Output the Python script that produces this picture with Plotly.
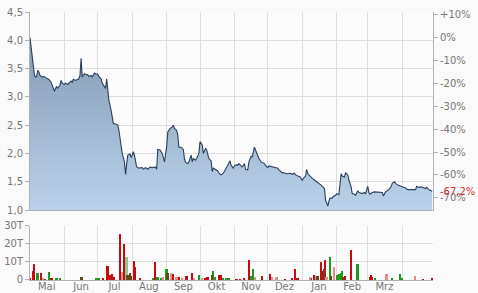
import plotly.graph_objects as go
import pandas as pd

start_date = "2016-05-01"
end_day = 362.7

price_days = [0, 1, 2, 3, 4, 5, 6, 7, 8, 9, 11, 13, 14, 16, 17, 19, 20, 22, 23, 24, 25, 27, 28, 29, 31, 32, 34, 35, 37, 38, 39, 41, 43, 44, 45, 46, 47, 49, 50, 52, 53, 55, 56, 58, 59, 61, 62, 64, 65, 67, 68, 69, 70, 71, 73, 74, 75, 77, 79, 80, 81, 82, 83, 85, 86, 87, 88, 90, 91, 92, 93, 94, 95, 96, 98, 101, 102, 104, 106, 108, 110, 113, 114, 115, 117, 119, 121, 123, 124, 126, 128, 129, 130, 132, 133, 134, 136, 138, 139, 140, 142, 143, 145, 146, 147, 149, 150, 152, 153, 155, 156, 158, 159, 161, 163, 164, 165, 167, 169, 170, 172, 174, 176, 178, 180, 181, 183, 184, 186, 187, 188, 190, 191, 193, 194, 196, 197, 199, 200, 202, 203, 205, 206, 208, 209, 211, 212, 214, 215, 218, 220, 221, 223, 224, 226, 227, 230, 232, 234, 236, 238, 239, 241, 243, 245, 246, 248, 249, 250, 252, 254, 256, 258, 260, 262, 264, 265, 266, 268, 269, 270, 272, 273, 275, 276, 278, 279, 280, 281, 283, 284, 286, 287, 289, 290, 292, 293, 295, 296, 298, 299, 301, 302, 304, 305, 306, 308, 310, 312, 314, 317, 318, 320, 322, 323, 325, 326, 328, 329, 331, 333, 335, 338, 340, 342, 344, 347, 348, 350, 352, 354, 356, 357, 359, 361, 362]
price_values = [4.05, 3.88, 3.71, 3.59, 3.38, 3.35, 3.36, 3.47, 3.44, 3.38, 3.35, 3.36, 3.34, 3.32, 3.31, 3.26, 3.21, 3.10, 3.15, 3.18, 3.15, 3.21, 3.29, 3.24, 3.22, 3.24, 3.22, 3.24, 3.28, 3.26, 3.31, 3.29, 3.32, 3.32, 3.38, 3.68, 3.35, 3.41, 3.40, 3.39, 3.36, 3.38, 3.35, 3.42, 3.41, 3.40, 3.36, 3.32, 3.24, 3.19, 3.15, 3.32, 3.09, 2.94, 2.76, 2.59, 2.53, 2.52, 2.50, 2.41, 2.26, 2.15, 2.00, 1.85, 1.63, 1.82, 1.97, 1.99, 1.93, 1.97, 2.03, 1.97, 1.85, 1.76, 1.74, 1.75, 1.72, 1.75, 1.72, 1.76, 1.75, 1.76, 1.72, 2.07, 2.06, 2.00, 1.85, 2.12, 2.38, 2.44, 2.47, 2.50, 2.44, 2.41, 2.32, 2.11, 2.11, 2.07, 1.91, 1.84, 1.82, 1.85, 1.97, 1.85, 1.91, 1.88, 1.91, 2.00, 2.21, 2.15, 2.00, 2.09, 2.06, 1.91, 1.87, 1.68, 1.74, 1.72, 1.69, 1.65, 1.62, 1.65, 1.71, 1.79, 1.87, 1.79, 1.74, 1.78, 1.80, 1.79, 1.82, 1.79, 1.76, 1.82, 1.72, 1.71, 1.85, 1.95, 1.94, 2.11, 2.06, 1.97, 1.91, 1.85, 1.84, 1.82, 1.79, 1.75, 1.78, 1.76, 1.75, 1.74, 1.74, 1.71, 1.68, 1.66, 1.65, 1.64, 1.65, 1.63, 1.65, 1.62, 1.60, 1.59, 1.52, 1.56, 1.60, 1.72, 1.64, 1.59, 1.56, 1.53, 1.50, 1.48, 1.44, 1.40, 1.38, 1.18, 1.07, 1.15, 1.21, 1.21, 1.24, 1.26, 1.29, 1.27, 1.47, 1.64, 1.60, 1.58, 1.66, 1.62, 1.53, 1.41, 1.29, 1.28, 1.26, 1.34, 1.31, 1.29, 1.29, 1.31, 1.29, 1.42, 1.31, 1.28, 1.31, 1.32, 1.32, 1.32, 1.31, 1.25, 1.32, 1.35, 1.36, 1.41, 1.47, 1.50, 1.47, 1.44, 1.42, 1.41, 1.39, 1.36, 1.36, 1.36, 1.36, 1.42, 1.40, 1.41, 1.40, 1.38, 1.40, 1.36, 1.34, 1.33]

vol_red_days = [0, 3, 4, 10, 19, 20, 66, 70, 71, 73, 74, 76, 81, 85, 91, 94, 95, 99, 113, 129, 134, 141, 146, 158, 160, 170, 172, 186, 189, 193, 197, 209, 216, 230, 236, 239, 241, 253, 256, 262, 263, 266, 284, 289, 306, 307, 308, 354, 362]
vol_red = [1, 5, 9, 4, 1, 0.8, 1.2, 7.8, 3, 3, 3.5, 1.5, 25.7, 20, 2.5, 10.5, 7, 1, 10, 3.5, 1.5, 2.5, 3.8, 1, 1.5, 3, 3, 0.5, 0.5, 1, 11.3, 2, 3.2, 0.5, 0.8, 6.3, 1, 1, 3, 10, 5, 11, 2, 16.5, 1.5, 3, 1.5, 0.5, 0.8]
vol_pink_days = [12, 83, 120, 127, 132, 137, 148, 155, 203, 218, 222, 252, 258, 267, 274, 321, 347]
vol_pink = [1, 4.5, 1.5, 4, 1.5, 1, 1, 1, 1.5, 1.5, 1.5, 1.5, 2, 1.5, 7, 3.5, 2]
vol_green_days = [7, 17, 24, 27, 60, 62, 111, 115, 118, 123, 152, 165, 167, 174, 177, 179, 199, 201, 270, 277, 278, 280, 281, 295, 311, 326, 333, 335]
vol_green = [4, 4.3, 0.8, 0.8, 1, 1, 1, 1.5, 1, 6, 3, 5, 1.5, 1, 0.8, 0.8, 2, 6, 12.8, 3, 3.5, 4, 5, 8.7, 0.8, 1, 3.5, 1]
vol_lgreen_days = [87]
vol_lgreen = [13]
vol_dark_days = [14, 46, 47, 88, 90, 124, 164, 259, 265, 271, 282]
vol_dark = [0.5, 1.7, 1.7, 3, 4, 4, 3, 2, 6, 2, 1.5]

month_starts = ["2016-05-01", "2016-06-01", "2016-07-01", "2016-08-01", "2016-09-01", "2016-10-01",
                "2016-11-01", "2016-12-01", "2017-01-01", "2017-02-01", "2017-03-01", "2017-04-01"]
month_mids = ["2016-05-16", "2016-06-16", "2016-07-16", "2016-08-16", "2016-09-16", "2016-10-16",
              "2016-11-16", "2016-12-16", "2017-01-16", "2017-02-15", "2017-03-16"]
month_labels = ["Mai", "Jun", "Jul", "Aug", "Sep", "Okt", "Nov", "Dez", "Jan", "Feb", "Mrz"]

price_ticks = [1.0, 1.5, 2.0, 2.5, 3.0, 3.5, 4.0, 4.5]
pct_ticks = [10, 0, -10, -20, -30, -40, -50, -60, -70]
pct_labels = ["+10%", "0%", "-10%", "-20%", "-30%", "-40%", "-50%", "-60%", "-70%"]
vol_ticks = [0, 10, 20, 30]
vol_labels = ["0", "10T", "20T", "30T"]

t0 = pd.Timestamp(start_date)
def to_dates(days):
    return [t0 + pd.Timedelta(days=d) for d in days]

x_range = [t0, t0 + pd.Timedelta(days=end_day)]
y_range = [1.0, 4.5]
base = price_values[0]
pct_range = [(y_range[0] / base - 1) * 100, (y_range[1] / base - 1) * 100]
last_pct = (price_values[-1] / base - 1) * 100

GRID = "#dedede"
AXIS = "#b0b0b0"
TXT = "#777777"
FONT = "DejaVu Sans"
bar_w = 1.6 * 86400000

fig = go.Figure()
fig.add_trace(go.Scatter(
    x=to_dates(price_days), y=price_values, mode="lines",
    line=dict(color="#2b3f5c", width=1.1),
    fill="tozeroy",
    fillgradient=dict(type="vertical", start=1.0, stop=4.3,
                      colorscale=[[0, "#b9d2ea"], [1, "#8196af"]]),
    xaxis="x", yaxis="y", hoverinfo="skip", showlegend=False))
fig.add_trace(go.Scatter(x=[x_range[0]], y=[0], mode="markers", marker=dict(opacity=0),
                         xaxis="x", yaxis="y2", showlegend=False, hoverinfo="skip"))

for days, vals, col in [(vol_red_days, vol_red, "#c40b12"),
                        (vol_pink_days, vol_pink, "#e98a8a"),
                        (vol_green_days, vol_green, "#1f9a1f"),
                        (vol_lgreen_days, vol_lgreen, "#8cc98c"),
                        (vol_dark_days, vol_dark, "#5e4a1c")]:
    fig.add_trace(go.Bar(x=to_dates(days), y=vals, width=bar_w, marker=dict(color=col, line=dict(width=0)),
                         xaxis="x2", yaxis="y3", showlegend=False, hoverinfo="skip"))

minor_grid = dict(tickmode="array", tickvals=month_starts, showgrid=True, gridcolor=GRID, gridwidth=1, ticks="")

fig.update_layout(
    width=478, height=293,
    margin=dict(l=30, r=45, t=12, b=13, autoexpand=False),
    paper_bgcolor="#fafafa", plot_bgcolor="#fcfcfc",
    font=dict(family=FONT, size=10, color=TXT),
    separators=",.",
    bargap=0, barmode="overlay",
    xaxis=dict(domain=[0, 1], anchor="y", type="date", range=x_range, showticklabels=False, automargin=False,
               showgrid=False, minor=minor_grid, showline=True, linecolor=AXIS, zeroline=False, ticks=""),
    yaxis=dict(domain=[0.2612, 1.0], anchor="x", range=y_range, tickmode="array", tickvals=price_ticks,
               tickformat=".1f", ticks="outside", ticklen=4, tickcolor=AXIS, showline=True, linecolor=AXIS,
               automargin=False, gridcolor=GRID, zeroline=False, tickfont=dict(size=10, color=TXT)),
    yaxis2=dict(overlaying="y", anchor="x", side="right", range=pct_range, tickmode="array",
                tickvals=pct_ticks, ticktext=pct_labels, ticks="outside", ticklen=4, tickcolor=AXIS,
                automargin=False, showline=True, linecolor=AXIS, showgrid=False, zeroline=False,
                tickfont=dict(size=10, color=TXT)),
    xaxis2=dict(domain=[0, 1], anchor="y3", type="date", range=x_range, tickmode="array", automargin=False,
                tickvals=month_mids, ticktext=month_labels, ticks="", showgrid=False, minor=minor_grid,
                ticklabelstandoff=-3,
                showline=True, linecolor=AXIS, zeroline=False, tickfont=dict(size=10, color=TXT)),
    yaxis3=dict(domain=[0, 0.2015], anchor="x2", range=[0, 30], tickmode="array", tickvals=vol_ticks,
                ticktext=vol_labels, ticks="outside", ticklen=4, tickcolor=AXIS, showline=True, linecolor=AXIS,
                automargin=False, gridcolor=GRID, zeroline=False, tickfont=dict(size=10, color=TXT)),
)

fig.add_annotation(x=1, xref="paper", y=last_pct, yref="y2", xanchor="left", yanchor="middle",
                   xshift=5, showarrow=False,
                   text=("%.1f%%" % last_pct).replace(".", ","),
                   font=dict(color="#d03030", size=10, family=FONT))

fig.write_html("out.html")
